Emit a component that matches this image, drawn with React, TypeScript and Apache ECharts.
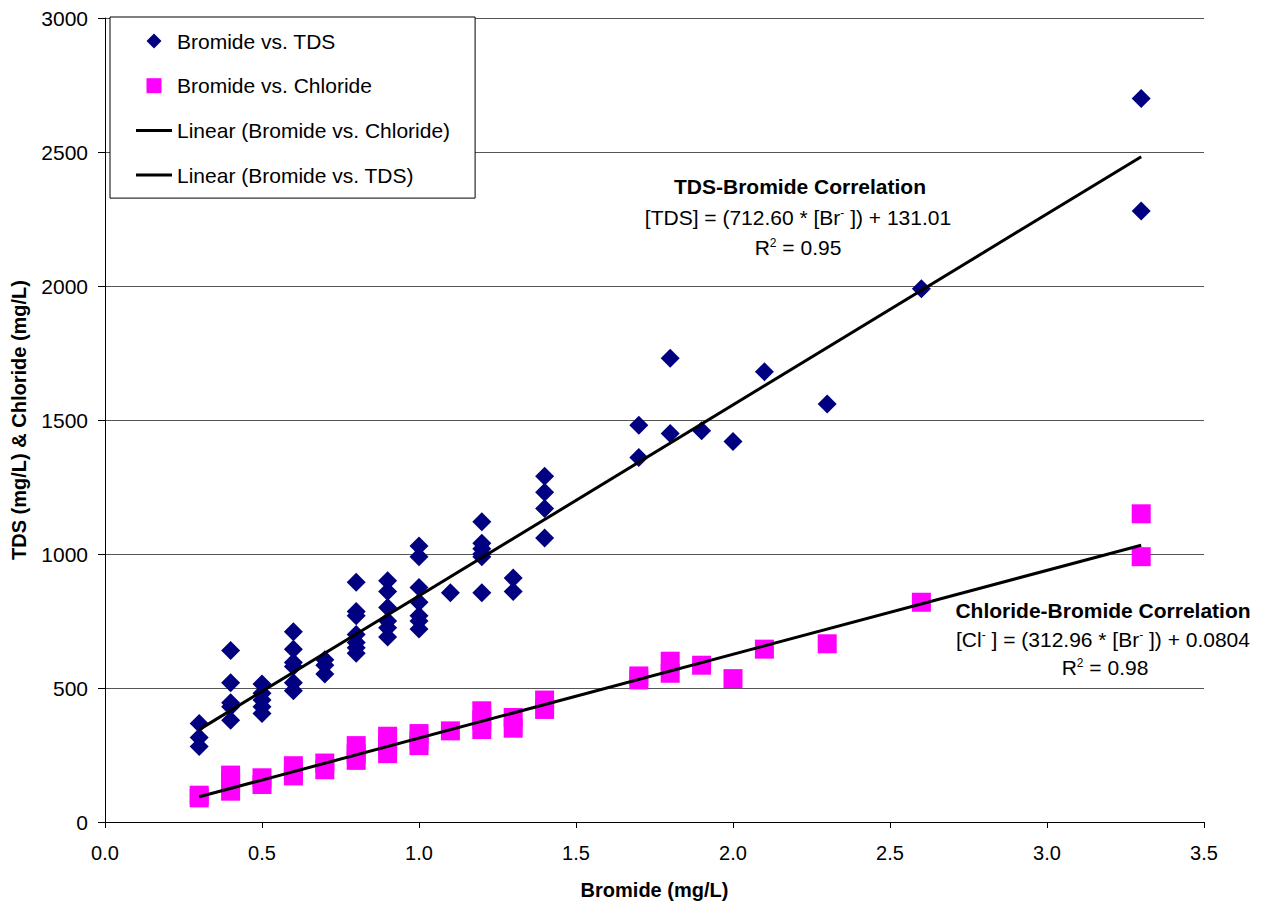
import React, { useEffect, useRef } from "react";
import * as echarts from "echarts";

// Bromide vs. TDS
const tdsBromide = [
  0.3, 0.3, 0.3,
  0.4, 0.4, 0.4, 0.4, 0.4,
  0.5, 0.5, 0.5, 0.5, 0.5,
  0.6, 0.6, 0.6, 0.6, 0.6, 0.6,
  0.7, 0.7, 0.7,
  0.8, 0.8, 0.8, 0.8, 0.8, 0.8, 0.8,
  0.9, 0.9, 0.9, 0.9, 0.9, 0.9,
  1.0, 1.0, 1.0, 1.0, 1.0, 1.0, 1.0,
  1.1,
  1.2, 1.2, 1.2, 1.2, 1.2, 1.2,
  1.3, 1.3,
  1.4, 1.4, 1.4, 1.4,
  1.7, 1.7,
  1.8, 1.8,
  1.9, 2.0, 2.1, 2.3, 2.6,
  3.3, 3.3,
];
const tdsValues = [
  368, 315, 282,
  640, 520, 445, 430, 380,
  515, 480, 455, 430, 405,
  710, 645, 595, 580, 520, 490,
  605, 585, 552,
  895, 785, 770, 700, 670, 650, 630,
  900, 860, 800, 750, 725, 690,
  1030, 990, 875, 820, 770, 750, 720,
  855,
  1120, 1040, 1020, 1000, 990, 855,
  910, 860,
  1290, 1230, 1170, 1060,
  1480, 1360,
  1730, 1450,
  1460, 1420, 1680, 1560, 1990,
  2700, 2280,
];

// Bromide vs. Chloride
const chlBromide = [
  0.3, 0.3,
  0.4, 0.4, 0.4,
  0.5, 0.5,
  0.6, 0.6, 0.6,
  0.7, 0.7,
  0.8, 0.8, 0.8,
  0.9, 0.9, 0.9,
  1.0, 1.0, 1.0,
  1.1,
  1.2, 1.2, 1.2,
  1.3, 1.3,
  1.4, 1.4,
  1.7, 1.7,
  1.8, 1.8,
  1.9, 2.0, 2.1, 2.3, 2.6,
  3.3, 3.3,
];
const chlValues = [
  100, 90,
  175, 150, 115,
  165, 140,
  210, 190, 172,
  220, 195,
  285, 255, 230,
  320, 290, 255,
  330, 305, 285,
  340,
  415, 380, 345,
  390, 350,
  455, 420,
  545, 530,
  600, 555,
  585, 535, 645, 665, 820,
  1150, 990,
];

// Linear trendline coefficients (from chart annotations)
const tdsSlope = 712.6;
const tdsIntercept = 131.01;
const chlSlope = 312.96;
const chlIntercept = 0.0804;
const trendRange = [0.3, 3.3];

const xTicks = { min: 0, max: 3.5, interval: 0.5 };
const yTicks = { min: 0, max: 3000, interval: 500 };

const seriesNames = [
  "Bromide vs. TDS",
  "Bromide vs. Chloride",
  "Linear (Bromide vs. Chloride)",
  "Linear (Bromide vs. TDS)",
];

const FONT = "'Liberation Sans', Arial, Helvetica, sans-serif";

export default function App() {
  const ref = useRef<HTMLDivElement>(null);

  useEffect(() => {
    document.body.style.margin = "0";
    if (!ref.current) return;
    const chart = echarts.init(ref.current, undefined, { renderer: "svg" });

    const tdsData = tdsBromide.map((x, i) => [x, tdsValues[i]]);
    const chlData = chlBromide.map((x, i) => [x, chlValues[i]]);
    const tdsTrend = trendRange.map((x) => [x, tdsSlope * x + tdsIntercept]);
    const chlTrend = trendRange.map((x) => [x, chlSlope * x + chlIntercept]);

    // icons drawn inside a 36x15 frame so their proportions are kept
    const diamondIcon = "path://M0,0M36,15M18,0L25.5,7.5L18,15L10.5,7.5Z";
    const squareIcon = "path://M0,0M36,15M10.5,0L25.5,0L25.5,15L10.5,15Z";
    const lineIcon = "path://M0,0M36,15M0,6L36,6L36,9L0,9Z";
    const sup = { fontSize: 12, lineHeight: 12, verticalAlign: "top", fontFamily: FONT, fill: "#000" };

    const annot = (x: number, y: number, text: string, bold = false) => ({
      type: "text",
      x,
      y,
      z: 10,
      style: {
        text,
        font: `${bold ? "bold " : ""}21px ${FONT}`,
        fill: "#000",
        textAlign: "center",
        textVerticalAlign: "middle",
        rich: { sup },
      },
    });

    chart.setOption({
      animation: false,
      backgroundColor: "#fff",
      textStyle: { fontFamily: FONT },
      grid: { left: 105, right: 62, top: 18, bottom: 83 },
      legend: {
        orient: "vertical",
        left: 110,
        top: 17,
        backgroundColor: "#fff",
        borderColor: "#000",
        borderWidth: 1,
        padding: [12, 25, 11, 26],
        itemWidth: 36,
        itemHeight: 15,
        itemGap: 20.7,
        textStyle: { fontSize: 21, lineHeight: 24, color: "#000", fontFamily: FONT },
        data: [
          { name: seriesNames[0], icon: diamondIcon },
          { name: seriesNames[1], icon: squareIcon },
          { name: seriesNames[2], icon: lineIcon },
          { name: seriesNames[3], icon: lineIcon },
        ],
      },
      xAxis: {
        type: "value",
        min: xTicks.min,
        max: xTicks.max,
        interval: xTicks.interval,
        name: "Bromide (mg/L)",
        nameLocation: "middle",
        nameGap: 58,
        nameTextStyle: { fontSize: 20, fontWeight: "bold", color: "#000", fontFamily: FONT },
        axisLine: { show: true, lineStyle: { color: "#000", width: 1 } },
        axisTick: { show: true, inside: false, length: 6, lineStyle: { color: "#000" } },
        axisLabel: {
          margin: 21,
          fontSize: 20,
          color: "#000",
          fontFamily: FONT,
          formatter: (v: number) => v.toFixed(1),
        },
        splitLine: { show: false },
      },
      yAxis: {
        type: "value",
        min: yTicks.min,
        max: yTicks.max,
        interval: yTicks.interval,
        name: "TDS (mg/L) & Chloride (mg/L)",
        nameLocation: "middle",
        nameGap: 76,
        nameTextStyle: { fontSize: 20, fontWeight: "bold", color: "#000", fontFamily: FONT },
        axisLine: { show: true, lineStyle: { color: "#000", width: 1 } },
        axisTick: { show: true, inside: false, length: 7, lineStyle: { color: "#000" } },
        axisLabel: {
          margin: 17,
          fontSize: 21,
          color: "#000",
          fontFamily: FONT,
          formatter: (v: number) => String(v),
        },
        splitLine: { show: true, lineStyle: { color: "#555", width: 1 } },
      },
      series: [
        {
          name: seriesNames[0],
          type: "scatter",
          symbol: "diamond",
          symbolSize: 19,
          itemStyle: { color: "#000080", opacity: 1 },
          data: tdsData,
          z: 3,
        },
        {
          name: seriesNames[1],
          type: "scatter",
          symbol: "rect",
          symbolSize: 19,
          itemStyle: { color: "#FF00FF", opacity: 1 },
          data: chlData,
          z: 3,
        },
        {
          name: seriesNames[2],
          type: "line",
          symbol: "none",
          color: "#000",
          lineStyle: { color: "#000", width: 3 },
          data: chlTrend,
          z: 4,
        },
        {
          name: seriesNames[3],
          type: "line",
          symbol: "none",
          color: "#000",
          lineStyle: { color: "#000", width: 3 },
          data: tdsTrend,
          z: 4,
        },
      ],
      graphic: [
        annot(800, 186, "TDS-Bromide Correlation", true),
        annot(798, 217, "[TDS] = (712.60 * [Br{sup|-} ]) + 131.01"),
        annot(798, 247, "R{sup|2} = 0.95"),
        annot(1103, 610, "Chloride-Bromide Correlation", true),
        annot(1103, 639, "[Cl{sup|-} ] = (312.96 * [Br{sup|-} ]) + 0.0804"),
        annot(1105, 667, "R{sup|2} = 0.98"),
      ],
    });

    return () => {
      chart.dispose();
    };
  }, []);

  return <div ref={ref} style={{ width: 1266, height: 905 }} />;
}
